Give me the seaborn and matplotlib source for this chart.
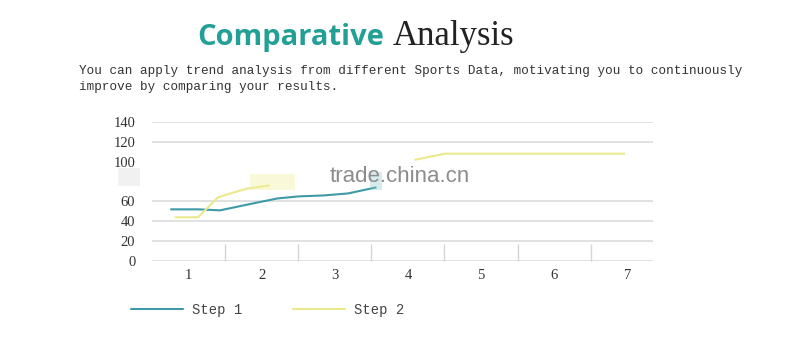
import matplotlib
matplotlib.use("Agg")
import matplotlib.pyplot as plt
from matplotlib.patches import Rectangle
from matplotlib.lines import Line2D
import seaborn as sns
import pandas as pd

# ---- data ----
categories = [1, 2, 3, 4, 5, 6, 7]
step1_x = [0.76, 1.13, 1.43, 1.95, 2.22, 2.50, 2.85, 3.18, 3.56]
step1_y = [52, 52, 51, 59, 63, 65, 66, 68, 74]
step2a_x = [0.82, 1.13, 1.40, 1.57, 1.81, 2.10]
step2a_y = [44, 44, 64, 68, 73, 76]
step2b_x = [4.10, 4.51, 6.96]
step2b_y = [102, 108, 108]
ytick_values = [0, 20, 40, 60, 80, 100, 120, 140]
ytick_labels = ["0", "20", "40", "60", "", "100", "120", "140"]
grid_values = [0, 20, 40, 60, 120, 140]
series_names = ["Step 1", "Step 2"]
colors = {"Step 1": "#3d9aa6", "Step 2": "#ebe98c"}

rows = []
for x, y in zip(step1_x, step1_y):
    rows.append({"x": x, "value": y, "series": "Step 1", "seg": 0})
for x, y in zip(step2a_x, step2a_y):
    rows.append({"x": x, "value": y, "series": "Step 2", "seg": 1})
for x, y in zip(step2b_x, step2b_y):
    rows.append({"x": x, "value": y, "series": "Step 2", "seg": 2})
df = pd.DataFrame(rows)

sns.set_theme(style="white")
plt.rcParams["font.family"] = ["Liberation Serif", "DejaVu Serif"]

fig = plt.figure(figsize=(8, 3.64), dpi=100)
ax = fig.add_axes([0.19, 0.283, 0.626, 0.382])

for g in grid_values:
    ax.axhline(g, color="#dcdcdc", lw=1.2, zorder=0)

sns.lineplot(data=df, x="x", y="value", hue="series", units="seg",
             estimator=None, sort=False, palette=colors, lw=1.5,
             legend=False, ax=ax)

ax.set_xlim(0.5, 7.35)
ax.set_ylim(0, 140)
ax.set_xlabel("")
ax.set_ylabel("")
for s in ax.spines.values():
    s.set_visible(False)

ax.set_xticks(categories)
ax.set_xticklabels([str(c) for c in categories])
ax.set_xticks([c + 0.5 for c in categories[:-1]], minor=True)
ax.tick_params(axis="x", which="major", length=0, pad=6, labelsize=10.5,
               labelcolor="#333333")
ax.tick_params(axis="x", which="minor", direction="in", length=12,
               width=1, color="#d5d5d5", bottom=True)
ax.set_yticks(ytick_values)
ax.set_yticklabels(ytick_labels)
ax.tick_params(axis="y", length=0, pad=12, labelsize=10.5,
               labelcolor="#333333")

# blurred artefacts of the original
fig.patches.append(Rectangle((118 / 800, 1 - 186 / 364), 22 / 800, 18 / 364,
                             transform=fig.transFigure, color="#e2e2e2",
                             alpha=0.45, lw=0))
fig.patches.append(Rectangle((250 / 800, 1 - 190 / 364), 45 / 800, 16 / 364,
                             transform=fig.transFigure, color="#f1ef9f",
                             alpha=0.4, lw=0))
fig.patches.append(Rectangle((370 / 800, 1 - 190 / 364), 12 / 800, 18 / 364,
                             transform=fig.transFigure, color="#8fc6ca",
                             alpha=0.35, lw=0))

# watermark
fig.text(400 / 800, 1 - 176 / 364, "trade.china.cn", ha="center", va="center",
         fontsize=16, color="#8c8c8c", family=["Liberation Sans", "DejaVu Sans"])

# title
fig.text(197 / 800, 1 - 45 / 364, "Comparative", ha="left", va="baseline",
         fontsize=21, fontweight="bold", color="#23a096",
         family=["Open Sans", "DejaVu Sans"])
fig.text(393 / 800, 1 - 45 / 364, "Analysis", ha="left", va="baseline",
         fontsize=25, color="#222222",
         family=["Liberation Serif", "DejaVu Serif"])

# subtitle
sub_font = ["Liberation Mono", "DejaVu Sans Mono"]
fig.text(79 / 800, 1 - 71 / 364,
         "You can apply trend analysis from different Sports Data, motivating you to continuously",
         ha="left", va="center", fontsize=9.1, color="#333333", family=sub_font)
fig.text(79 / 800, 1 - 87 / 364, "improve by comparing your results.",
         ha="left", va="center", fontsize=9.1, color="#333333", family=sub_font)

# legend
handles = [Line2D([0], [0], color=colors[n], lw=1.5) for n in series_names]
fig.legend(handles, series_names, loc="center left",
           bbox_to_anchor=(118 / 800, 1 - 310 / 364), ncol=2, frameon=False,
           handlelength=3.75, handletextpad=0.7, columnspacing=3.6,
           prop={"family": sub_font, "size": 10}, labelcolor="#444444")

fig.savefig("out.png", dpi=100, facecolor="white")
